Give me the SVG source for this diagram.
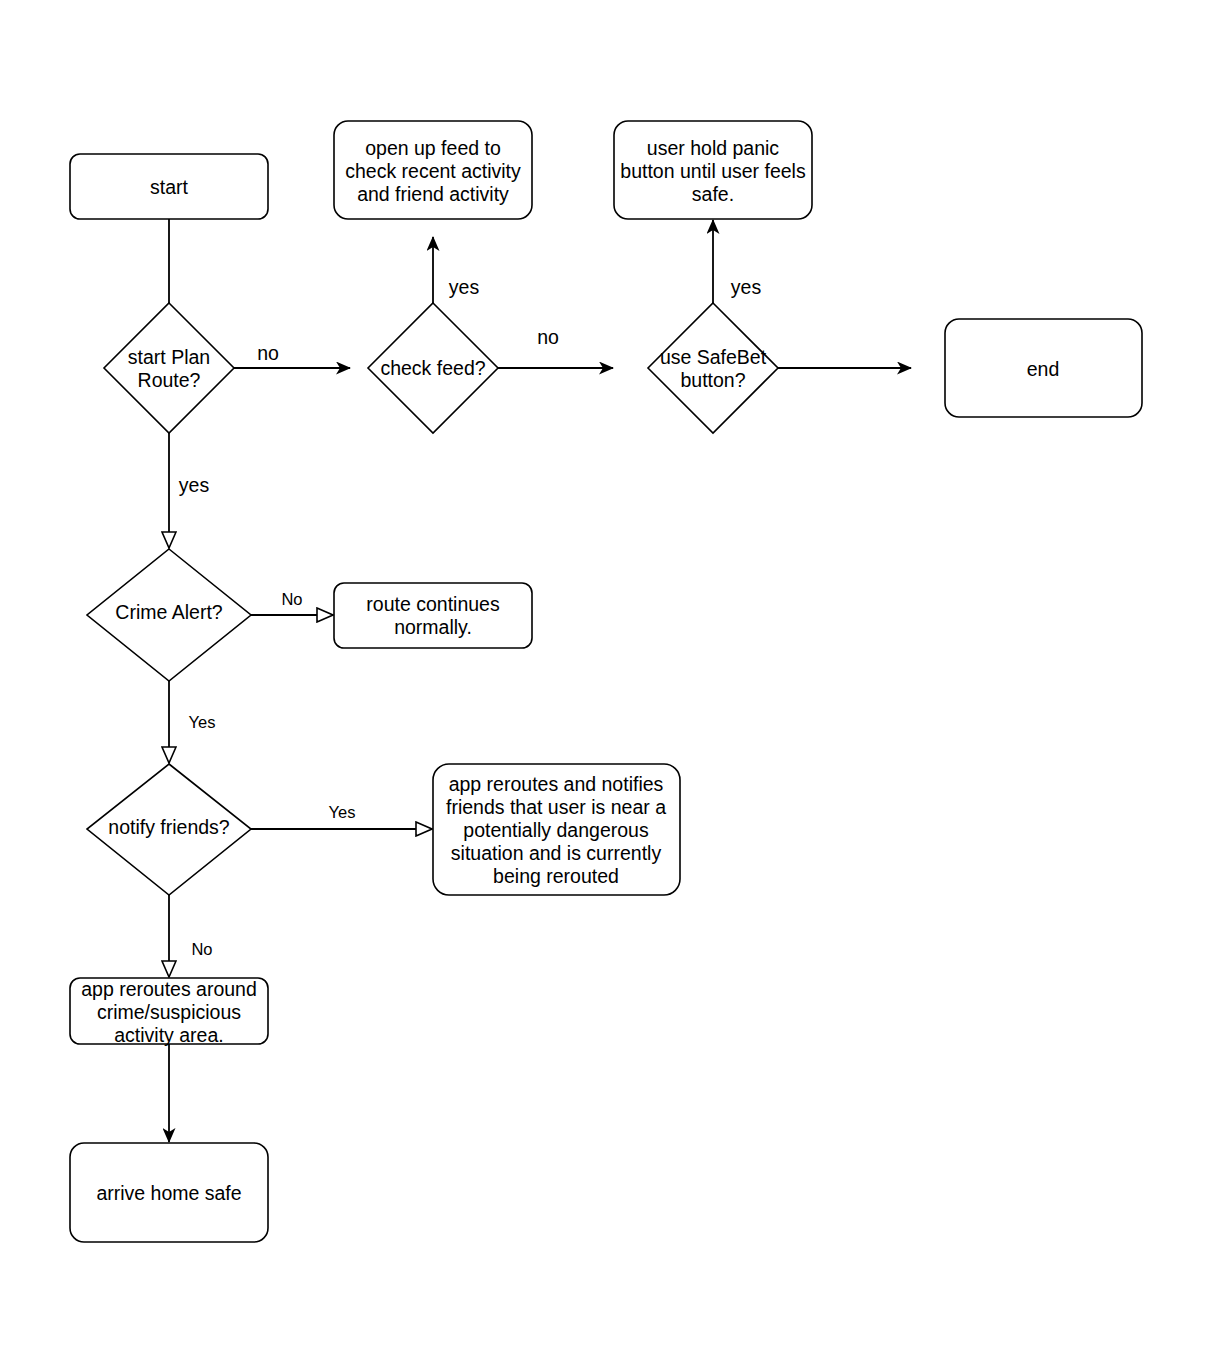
<svg xmlns="http://www.w3.org/2000/svg" width="1212" height="1360" viewBox="0 0 1212 1360">
<style>
.n{fill:#fff;stroke:#000;stroke-width:1.6}
.t{font-family:"Liberation Sans",Arial,sans-serif;font-size:19.5px;fill:#000;text-anchor:middle}
.s{font-family:"Liberation Sans",Arial,sans-serif;font-size:16.5px;fill:#000;text-anchor:middle}
.e{fill:none;stroke:#000;stroke-width:1.8}
</style>
<defs>
<marker id="cl" viewBox="0 0 15 13" refX="14" refY="6.5" markerWidth="15" markerHeight="13" orient="auto" markerUnits="userSpaceOnUse"><path d="M0,0 L15,6.5 L0,13 L4,6.5 Z" fill="#000"/></marker>
<marker id="op" viewBox="-1 -1 18 16" refX="16" refY="7" markerWidth="18" markerHeight="16" orient="auto" markerUnits="userSpaceOnUse"><path d="M0,0 L16,7 L0,14 Z" fill="#fff" stroke="#000" stroke-width="1.6"/></marker>
</defs>
<rect width="1212" height="1360" fill="#fff"/>
<g id="edges">
<line class="e" x1="169" y1="219" x2="169" y2="303"/>
<line class="e" x1="234" y1="368" x2="350" y2="368" marker-end="url(#cl)"/>
<line class="e" x1="433" y1="303" x2="433" y2="237" marker-end="url(#cl)"/>
<line class="e" x1="498" y1="368" x2="613" y2="368" marker-end="url(#cl)"/>
<line class="e" x1="713" y1="303" x2="713" y2="220" marker-end="url(#cl)"/>
<line class="e" x1="778" y1="368" x2="911" y2="368" marker-end="url(#cl)"/>
<line class="e" x1="169" y1="433" x2="169" y2="548" marker-end="url(#op)"/>
<line class="e" x1="251" y1="615" x2="333" y2="615" marker-end="url(#op)"/>
<line class="e" x1="169" y1="681" x2="169" y2="763" marker-end="url(#op)"/>
<line class="e" x1="251" y1="829" x2="432" y2="829" marker-end="url(#op)"/>
<line class="e" x1="169" y1="895" x2="169" y2="977" marker-end="url(#op)"/>
<line class="e" x1="169" y1="1044" x2="169" y2="1142" marker-end="url(#cl)"/>
<text class="t" x="268" y="360">no</text>
<text class="t" x="464" y="294">yes</text>
<text class="t" x="548" y="344">no</text>
<text class="t" x="746" y="294">yes</text>
<text class="t" x="194" y="492">yes</text>
<text class="s" x="292" y="605">No</text>
<text class="s" x="202" y="728">Yes</text>
<text class="s" x="342" y="818">Yes</text>
<text class="s" x="202" y="955">No</text>
</g>
<g id="start"><rect class="n" x="70" y="154" width="198" height="65" rx="10"/><text class="t" x="169" y="194">start</text></g>
<g id="planRoute"><polygon class="n" points="169,303 234,368 169,433 104,368"/><text class="t" x="169" y="364">start Plan</text><text class="t" x="169" y="387">Route?</text></g>
<g id="checkFeed"><polygon class="n" points="433,303 498,368 433,433 368,368"/><text class="t" x="433" y="375">check feed?</text></g>
<g id="openFeed"><rect class="n" x="334" y="121" width="198" height="98" rx="14"/><text class="t" x="433" y="155">open up feed to</text><text class="t" x="433" y="178">check recent activity</text><text class="t" x="433" y="201">and friend activity</text></g>
<g id="safeBet"><polygon class="n" points="713,303 778,368 713,433 648,368"/><text class="t" x="713" y="364">use SafeBet</text><text class="t" x="713" y="387">button?</text></g>
<g id="panic"><rect class="n" x="614" y="121" width="198" height="98" rx="14"/><text class="t" x="713" y="155">user hold panic</text><text class="t" x="713" y="178">button until user feels</text><text class="t" x="713" y="201">safe.</text></g>
<g id="end"><rect class="n" x="945" y="319" width="197" height="98" rx="14"/><text class="t" x="1043" y="376">end</text></g>
<g id="crimeAlert"><polygon class="n" points="169,549 251,615 169,681 87,615"/><text class="t" x="169" y="619">Crime Alert?</text></g>
<g id="routeNormal"><rect class="n" x="334" y="583" width="198" height="65" rx="10"/><text class="t" x="433" y="611">route continues</text><text class="t" x="433" y="634">normally.</text></g>
<g id="notify"><polygon class="n" points="169,764 251,829 169,895 87,829"/><text class="t" x="169" y="834">notify friends?</text></g>
<g id="notifyBox"><rect class="n" x="433" y="764" width="247" height="131" rx="16"/><text class="t" x="556" y="791">app reroutes and notifies</text><text class="t" x="556" y="814">friends that user is near a</text><text class="t" x="556" y="837">potentially dangerous</text><text class="t" x="556" y="860">situation and is currently</text><text class="t" x="556" y="883">being rerouted</text></g>
<g id="rerouteBox"><rect class="n" x="70" y="978" width="198" height="66" rx="10"/><text class="t" x="169" y="996">app reroutes around</text><text class="t" x="169" y="1019">crime/suspicious</text><text class="t" x="169" y="1042">activity area.</text></g>
<g id="home"><rect class="n" x="70" y="1143" width="198" height="99" rx="14"/><text class="t" x="169" y="1200">arrive home safe</text></g>
</svg>
